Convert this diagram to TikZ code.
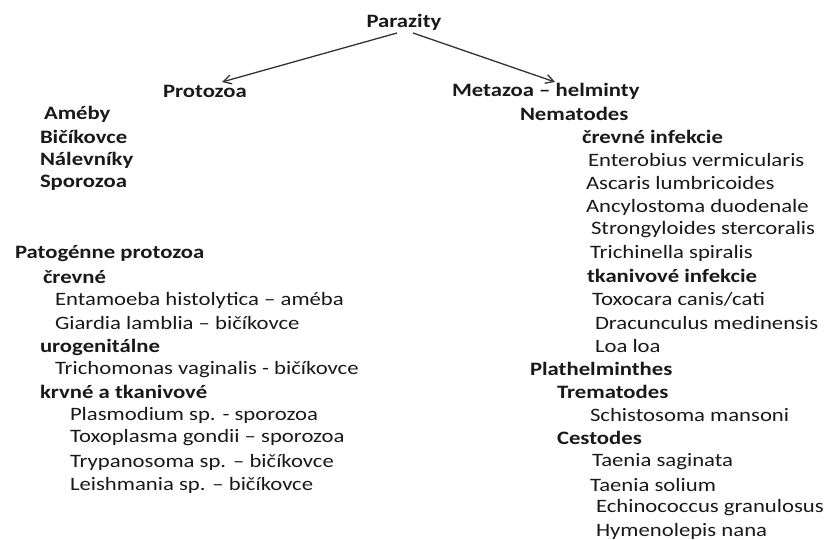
\documentclass[tikz,border=0pt]{standalone}
\usepackage{fontspec}
\setmainfont{Carlito}[FakeStretch=1.2]
\usetikzlibrary{arrows.meta}
\begin{document}
\begin{tikzpicture}[x=1bp,y=-1bp,
  every node/.style={inner sep=0pt,outer sep=0pt,anchor=west,text=black!90},
  hd/.style={font=\fontsize{19}{21}\selectfont\bfseries},
  sp/.style={font=\fontsize{19}{21}\selectfont},
  arr/.style={-{Straight Barb[length=8bp,width=9bp]},line width=1.3bp,black!80}]
\useasboundingbox (0,0) rectangle (831,540);
\node[hd,anchor=center] (par) at (404,22) {Parazity};
\node[hd] (pro) at (163,91) {Protozoa};
\node[hd] (met) at (452,91) {Metazoa – helminty};
\coordinate (ps) at (397,33);
\coordinate (ms) at (413,33);
\coordinate (pe) at (222,82);
\coordinate (me) at (555,82);
\draw[arr] (ps) -- (pe);
\draw[arr] (ms) -- (me);
% left column
\node[hd] (a1) at (44,114) {Améby};
\node[hd] (a2) at (40,137) {Bičíkovce};
\node[hd] (a3) at (40,160) {Nálevníky};
\node[hd] (a4) at (40,183) {Sporozoa};
\node[hd] (l1) at (15,254) {Patogénne protozoa};
\node[hd] (l2) at (43,277) {črevné};
\node[sp] (l3) at (55,300) {Entamoeba histolytica – améba};
\node[sp] (l4) at (55,323) {Giardia lamblia – bičíkovce};
\node[hd] (l5) at (40,347) {urogenitálne};
\node[sp] (l6) at (55,370) {Trichomonas vaginalis - bičíkovce};
\node[hd] (l7) at (40,392) {krvné a tkanivové};
\node[sp] (l8) at (70,415) {Plasmodium sp. - sporozoa};
\node[sp] (l9) at (70,438) {Toxoplasma gondii – sporozoa};
\node[sp] (l10) at (70,462) {Trypanosoma sp. – bičíkovce};
\node[sp] (l11) at (70,485) {Leishmania sp. – bičíkovce};
% right column
\node[hd] (r1) at (520,114) {Nematodes};
\node[hd] (r2) at (582,137) {črevné infekcie};
\node[sp] (r3) at (588,160) {Enterobius vermicularis};
\node[sp] (r4) at (586,183) {Ascaris lumbricoides};
\node[sp] (r5) at (586,207) {Ancylostoma duodenale};
\node[sp] (r6) at (591,230) {Strongyloides stercoralis};
\node[sp] (r7) at (590,253) {Trichinella spiralis};
\node[hd] (r8) at (587,276) {tkanivové infekcie};
\node[sp] (r9) at (592,299) {Toxocara canis/cati};
\node[sp] (r10) at (595,323) {Dracunculus medinensis};
\node[sp] (r11) at (595,346) {Loa loa};
\node[hd] (r12) at (530,369) {Plathelminthes};
\node[hd] (r13) at (557,392) {Trematodes};
\node[sp] (r14) at (590,415) {Schistosoma mansoni};
\node[hd] (r15) at (557,438) {Cestodes};
\node[sp] (r16) at (592,462) {Taenia saginata};
\node[sp] (r17) at (590,485) {Taenia solium};
\node[sp] (r18) at (596,508) {Echinococcus granulosus};
\node[sp] (r19) at (596,531) {Hymenolepis nana};
\end{tikzpicture}
\end{document}
